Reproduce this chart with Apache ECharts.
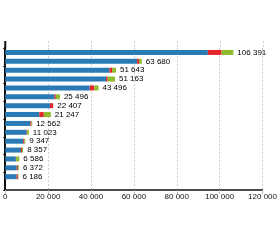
<!DOCTYPE html>
<html>
<head>
<meta charset="UTF-8">
<title></title>
<script src="https://cdn.jsdelivr.net/npm/echarts@6/dist/echarts.min.js"></script>
<style>
  html, body { margin: 0; padding: 0; background: #fff; }
  #chart { width: 280px; height: 240px; }
</style>
</head>
<body>
<div id="chart"></div>
<script>
// 15 rows, top to bottom; the last category stays empty like in the picture
var categories = ['1', '2', '3', '4', '5', '6', '7', '8', '9', '10', '11', '12', '13', '14', '15', ''];
var totals = [106391, 63680, 51643, 51163, 43496, 25496, 22407, 21247, 12562, 11023, 9347, 8357, 6586, 6372, 6186];
var blueValues = [94500, 61500, 48600, 47030, 39400, 23000, 20900, 15900, 11700, 10000, 8400, 7300, 4950, 5400, 5300];
var redValues = [6400, 930, 1250, 780, 2150, 600, 1407, 2100, 500, 200, 500, 550, 150, 500, 600];
var greenValues = [5491, 1250, 1793, 3353, 1946, 1896, 100, 3247, 362, 823, 447, 507, 1486, 472, 286];
var xTicks = [0, 20000, 40000, 60000, 80000, 100000, 120000];

function spaced(n) {
  return String(n).replace(/\B(?=(\d{3})+(?!\d))/g, ' ');
}

var chart = echarts.init(document.getElementById('chart'));
var font = 'Liberation Sans, Arial, sans-serif';
var gridTop = 48;
var axisTop = 41; // axis and grid lines run a bit above the first bar

chart.setOption({
  animation: false,
  grid: { left: 3, right: 15, top: gridTop, bottom: 50 },
  xAxis: {
    type: 'value',
    min: xTicks[0],
    max: xTicks[xTicks.length - 1],
    interval: 20000,
    axisLine: { show: true, lineStyle: { color: '#111', width: 1.5 } },
    axisTick: { show: true, length: 4, lineStyle: { color: '#bbb' } },
    axisLabel: {
      color: '#111', fontSize: 8, fontFamily: font, margin: 3,
      formatter: function (v) { return spaced(v); }
    },
    splitLine: { show: true, lineStyle: { color: '#c8d0da', type: [2, 2] } }
  },
  yAxis: {
    type: 'category',
    data: categories,
    inverse: true,
    axisLine: { show: true, lineStyle: { color: '#111', width: 2 } },
    axisTick: { show: true, length: 2, lineStyle: { color: '#111' } },
    axisLabel: { show: false },
    splitLine: { show: false }
  },
  series: [
    { type: 'bar', stack: 's', data: blueValues, barWidth: 5, itemStyle: { color: '#2a7ab5' } },
    { type: 'bar', stack: 's', data: redValues, barWidth: 5, itemStyle: { color: '#e4262b' } },
    {
      type: 'bar', stack: 's', data: greenValues, barWidth: 5, itemStyle: { color: '#8dbb2c' },
      label: {
        show: true, position: 'right', distance: 4,
        color: '#000', fontSize: 8, fontFamily: font,
        formatter: function (p) { return spaced(totals[p.dataIndex]); }
      }
    }
  ]
});

// extend the axis line and dashed grid lines above the plot, placed by the x scale
var extras = [];
xTicks.forEach(function (t, i) {
  var x = chart.convertToPixel({ xAxisIndex: 0 }, t);
  if (i === 0) {
    extras.push({ type: 'line', shape: { x1: x, y1: axisTop, x2: x, y2: gridTop + 1 },
      style: { stroke: '#111', lineWidth: 2 } });
  } else {
    extras.push({ type: 'line', shape: { x1: Math.round(x) + 0.5, y1: axisTop, x2: Math.round(x) + 0.5, y2: gridTop },
      style: { stroke: '#c8d0da', lineWidth: 1, lineDash: [2, 2] } });
  }
});
chart.setOption({ graphic: extras });
</script>
</body>
</html>
